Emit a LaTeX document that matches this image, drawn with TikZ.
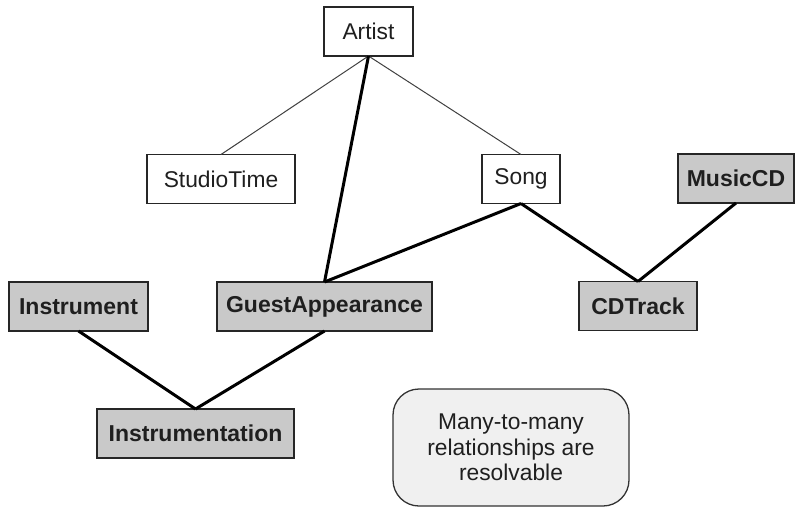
\documentclass[tikz,border=0pt]{standalone}
\usepackage{fontspec}
\setmainfont{Liberation Sans}
\begin{document}
\begin{tikzpicture}[x=1pt,y=-1pt,
  every node/.style={inner sep=0pt,outer sep=0pt,font=\fontsize{22.8}{25.5}\selectfont,text=black!88},
  entity/.style={draw=black!85,line width=1.3pt,fill=white,minimum height=49pt},
  linked/.style={entity,fill=black!21,font=\fontsize{23}{25.5}\selectfont\bfseries},
  note/.style={draw=black!80,line width=1.3pt,fill=black!6,rounded corners=26pt,align=center},
  weak/.style={draw=black!75,line width=1pt},
  strong/.style={draw=black,line width=3pt}]
\useasboundingbox (0,0) rectangle (795,509);

% plain entities
\node[entity,minimum width=89pt]  (artist) at (368.5,31.5) {Artist};
\node[entity,minimum width=148pt] (studio) at (221,179) {StudioTime};
\node[entity,minimum width=78pt]  (song)   at (521,179) {Song};

% resolving (shaded) entities
\node[linked,minimum width=116pt] (cd)     at (736,178.5) {MusicCD};
\node[linked,minimum width=139pt] (instr)  at (78.5,306.5) {Instrument};
\node[linked,minimum width=215pt] (guest)  at (324.5,306.5) {GuestAppearance};
\node[linked,minimum width=118pt] (track)  at (638,306) {CDTrack};
\node[linked,minimum width=197pt] (instrn) at (195.5,433.5) {Instrumentation};

% remark
\node[note,minimum width=236pt,minimum height=117pt] (remark) at (511,447.5)
  {Many-to-many\\relationships are\\resolvable};

% relationships
\draw[weak]   (artist.south) -- (studio.north);
\draw[weak]   (artist.south) -- (song.north);
\draw[strong] (artist.south) -- (guest.north);
\draw[strong] (song.south) -- (guest.north);
\draw[strong] (song.south) -- (track.north);
\draw[strong] (cd.south) -- (track.north);
\draw[strong] (instr.south) -- (instrn.north);
\draw[strong] (guest.south) -- (instrn.north);
\end{tikzpicture}
\end{document}
